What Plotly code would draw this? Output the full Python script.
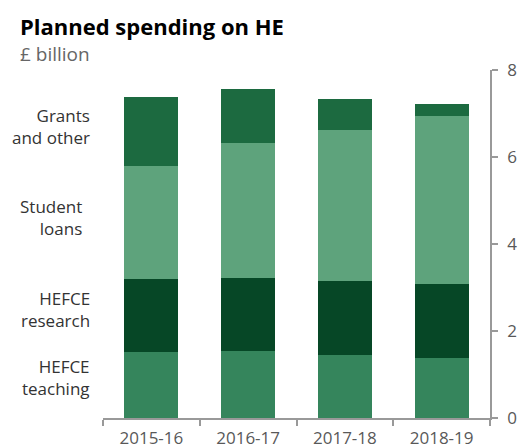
import plotly.graph_objects as go

years = ["2015-16", "2016-17", "2017-18", "2018-19"]
teaching = [1.52, 1.55, 1.45, 1.38]
research = [1.68, 1.67, 1.69, 1.71]
loans = [2.59, 3.11, 3.48, 3.85]
grants = [1.60, 1.23, 0.71, 0.28]

series_names = ["HEFCE teaching", "HEFCE research", "Student loans", "Grants and other"]
series_labels = ["HEFCE<br>teaching", "HEFCE<br>research", "Student<br>loans", "Grants<br>and other"]
label_y = [0.92, 2.5, 4.6, 6.69]
label_x = [-0.028, -0.028, -0.05, -0.028]
colors = ["#35855c", "#064726", "#5ea37c", "#1c6a40"]

FONT = "Open Sans"

fig = go.Figure()
for name, vals, col in zip(series_names, [teaching, research, loans, grants], colors):
    fig.add_trace(go.Bar(x=years, y=vals, name=name, marker=dict(color=col, line=dict(width=0))))

for lab, ly, lx in zip(series_labels, label_y, label_x):
    fig.add_annotation(text=lab, xref="paper", yref="y", x=lx, y=ly,
                       xanchor="right", yanchor="middle", align="right", showarrow=False,
                       font=dict(family=FONT, size=17, color="#333333"))

fig.add_annotation(text="<b>Planned spending on HE</b>", xref="paper", yref="paper",
                   x=-0.209, y=1.0, xshift=-4, yshift=44, xanchor="left", yanchor="middle",
                   showarrow=False, font=dict(family=FONT, size=22, color="#000000"))
fig.add_annotation(text="£ billion", xref="paper", yref="paper",
                   x=-0.209, y=1.0, xshift=-4, yshift=16, xanchor="left", yanchor="middle",
                   showarrow=False, font=dict(family=FONT, size=19, color="#666666"))

fig.update_layout(
    width=518, height=448,
    margin=dict(l=103, r=28, t=70, b=30),
    barmode="stack", bargap=0.44,
    showlegend=False,
    plot_bgcolor="white", paper_bgcolor="white",
    font=dict(family=FONT, size=17, color="#595959"),
    xaxis=dict(range=[-0.5, 3.5], tickson="boundaries", ticks="outside", ticklen=6,
               tickcolor="#999999", tickwidth=1.5, showline=True, linecolor="#999999", linewidth=1.5,
               showgrid=False, ticklabelstandoff=4, automargin=False,
               tickfont=dict(family=FONT, size=17, color="#595959")),
    yaxis=dict(range=[0, 8], side="right", tickvals=[0, 2, 4, 6, 8], ticks="outside",
               ticklen=6, tickcolor="#999999", tickwidth=1.5, showline=True, linecolor="#999999",
               linewidth=1.5, ticklabelstandoff=6, automargin=False,
               showgrid=False, zeroline=False, tickfont=dict(family=FONT, size=17, color="#595959")),
)

fig.write_html("out.html", config={"displayModeBar": False})

with open("out.html", encoding="utf-8") as f:
    html = f.read()
html = html.replace("<body>", '<body style="margin:0;padding:0;">', 1)
with open("out.html", "w", encoding="utf-8") as f:
    f.write(html)
